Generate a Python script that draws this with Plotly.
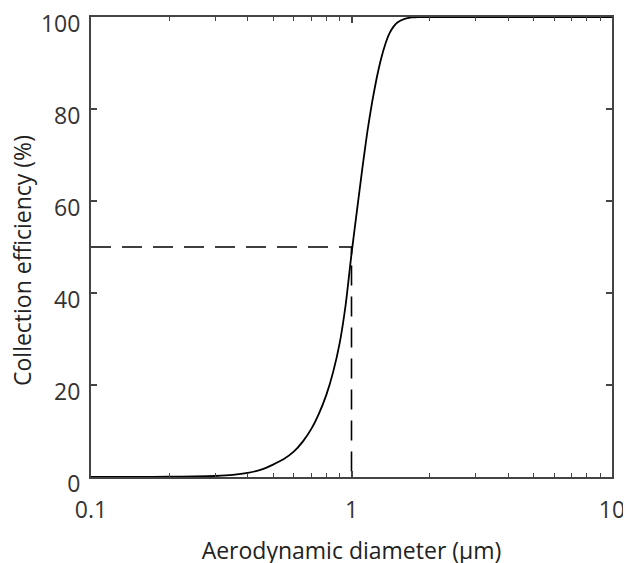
import plotly.graph_objects as go

diameter_um = [0.1, 0.15, 0.2, 0.25, 0.3, 0.35, 0.4, 0.45, 0.5, 0.55, 0.6, 0.65, 0.7,
               0.75, 0.8, 0.85, 0.9, 0.95, 1.0, 1.05, 1.1, 1.15, 1.2, 1.25, 1.3, 1.35,
               1.4, 1.45, 1.5, 1.6, 1.7, 1.8, 2.0, 3.0, 5.0, 10.0]
efficiency_pct = [0, 0, 0.05, 0.12, 0.22, 0.45, 0.9, 1.6, 2.7, 3.9, 5.5, 7.7, 10.4,
                  13.8, 17.8, 22.8, 29.0, 37.5, 48.5, 58.0, 67.0, 75.0, 81.5, 86.8,
                  91.0, 94.2, 96.5, 97.9, 98.8, 99.6, 99.9, 100, 100, 100, 100, 100]

cut_x = [0.1, 1, 1]
cut_y = [50, 50, 0]

x_tickvals = [0.1, 1, 10]
x_ticktext = ["0.1", "1", "10"]
x_minor = [0.2, 0.3, 0.4, 0.5, 0.6, 0.7, 0.8, 0.9, 2, 3, 4, 5, 6, 7, 8, 9]
y_tickvals = [0, 20, 40, 60, 80, 100]

fig = go.Figure()
fig.add_trace(go.Scatter(x=cut_x, y=cut_y, mode="lines",
                         line=dict(color="black", width=1.6, dash="20px,11px"),
                         hoverinfo="skip", showlegend=False))
fig.add_trace(go.Scatter(x=diameter_um, y=efficiency_pct, mode="lines",
                         line=dict(color="black", width=1.8, shape="spline", smoothing=0.5),
                         showlegend=False))

font_family = "Open Sans, DejaVu Sans, sans-serif"
fig.update_layout(
    width=631, height=563,
    margin=dict(l=83, r=27, t=9, b=94),
    paper_bgcolor="white", plot_bgcolor="white",
    font=dict(family=font_family, color="#333333"),
)
fig.update_xaxes(
    type="log", range=[-1, 1], automargin=False,
    tickvals=x_tickvals, ticktext=x_ticktext,
    ticks="inside", ticklen=6, tickwidth=1.5, tickcolor="#444444",
    minor=dict(tickvals=x_minor, ticks="inside", ticklen=4, tickwidth=1,
               tickcolor="#444444", showgrid=False),
    showline=True, linecolor="#444444", linewidth=2, mirror="ticks",
    showgrid=False, zeroline=False,
    tickfont=dict(size=23, family=font_family, color="#333333"),
    ticklabelstandoff=11,
    title=dict(text="Aerodynamic diameter (µm)", font=dict(size=23, family=font_family, color="#222222"),
               standoff=19),
)
fig.update_yaxes(
    range=[0, 100], automargin=False,
    tickvals=y_tickvals,
    ticks="inside", ticklen=6, tickwidth=1.5, tickcolor="#444444",
    showline=True, linecolor="#444444", linewidth=2, mirror="ticks",
    showgrid=False, zeroline=False,
    tickfont=dict(size=23, family=font_family, color="#333333"),
    ticklabelstandoff=4, ticklabelshift=7, ticklabeloverflow="allow",
)
fig.add_annotation(text="Collection efficiency (%)", textangle=-90,
                   xref="paper", yref="paper", x=0, y=0.5,
                   xanchor="center", yanchor="middle", xshift=-69, yshift=-14,
                   showarrow=False,
                   font=dict(size=23, family=font_family, color="#222222"))
fig.write_html("out.html")
